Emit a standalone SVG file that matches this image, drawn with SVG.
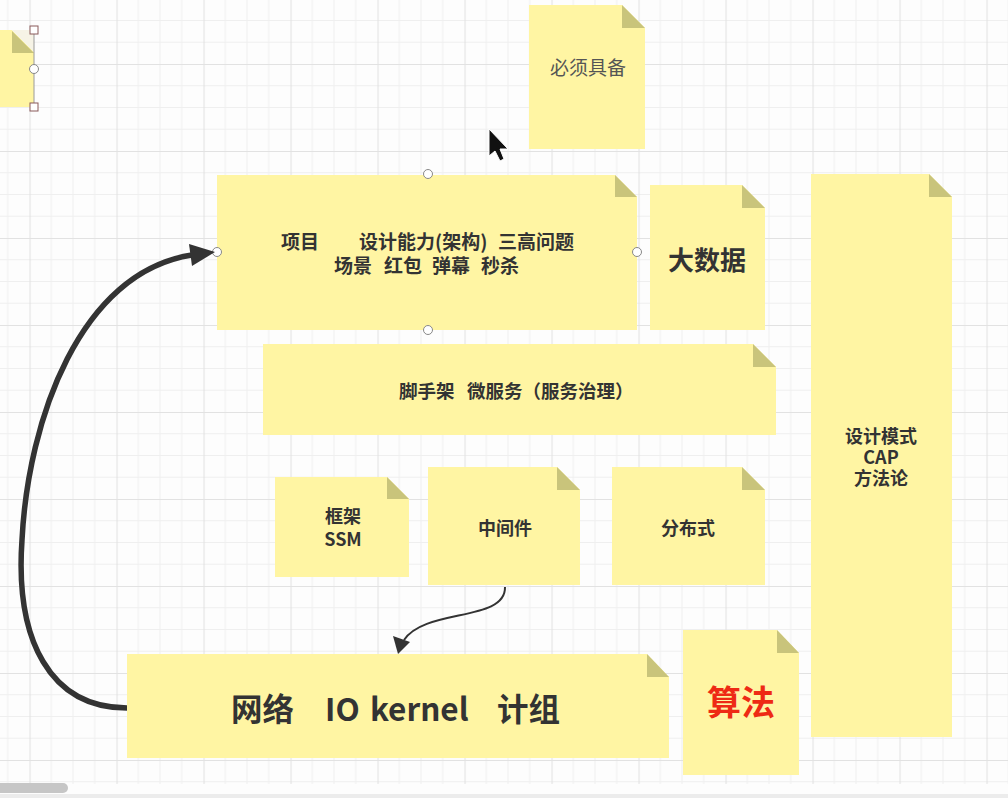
<svg xmlns="http://www.w3.org/2000/svg" width="1008" height="798" viewBox="0 0 1008 798">
<defs>
<pattern id="grid" patternUnits="userSpaceOnUse" x="29.5" y="64" width="87" height="87">
<path d="M21.75 0V87M43.5 0V87M65.25 0V87M0 21.75H87M0 43.5H87M0 65.25H87" stroke="#efefef" stroke-width="1" fill="none"/>
<path d="M0.5 0V87M0 0.5H87" stroke="#e2e2e2" stroke-width="1.2" fill="none"/>
</pattern>
<style>
.note{fill:#fff5a3}
.fold{fill:#c9c47b}
.t{font-family:"Noto Sans CJK SC","Microsoft YaHei",sans-serif;font-weight:bold;fill:#333}
.c{text-anchor:middle}
.h{fill:#fff;stroke:#888;stroke-width:1}
</style>
</defs>
<rect width="1008" height="798" fill="#fdfdfd"/>
<rect width="1008" height="784" fill="url(#grid)"/>

<g id="note-partial">
<polygon class="note" points="-60,30 12,30 34,52 34,107 -60,107"/>
<polygon points="12,30 34,30 34,52" fill="#f6f3e6"/>
<polygon class="fold" points="12,31 12,53 34,53"/>
<line x1="34" y1="30" x2="34" y2="107" stroke="#9a9a9a" stroke-width="1"/>
<rect x="30" y="26" width="8" height="8" fill="#fff" stroke="#8a5a5a"/>
<rect x="30" y="103" width="8" height="8" fill="#fff" stroke="#8a5a5a"/>
<circle cx="34" cy="69" r="4.5" class="h"/>
</g>

<g id="note-bixu">
<polygon class="note" points="529,5 622,5 645,28 645,149 529,149"/>
<polygon class="fold" points="622,5 622,28 645,28"/>
<text x="588" y="75" class="c" font-family="'Noto Sans CJK SC','Microsoft YaHei',sans-serif" font-size="19" fill="#555">必须具备</text>
</g>

<g id="note-xiangmu">
<polygon class="note" points="217,175 615,175 637,197 637,330 217,330"/>
<polygon class="fold" points="615,175 615,197 637,197"/>
<text class="t" font-size="19" y="248.5"><tspan x="281">项目</tspan><tspan x="359">设计能力(架构)</tspan><tspan x="498">三高问题</tspan></text>
<text class="t" font-size="19" y="272.5"><tspan x="334">场景</tspan><tspan x="384">红包</tspan><tspan x="432">弹幕</tspan><tspan x="481">秒杀</tspan></text>
<circle cx="428" cy="174" r="4.5" class="h"/>
<circle cx="217" cy="252" r="4.5" class="h"/>
<circle cx="637" cy="252" r="4.5" class="h"/>
<circle cx="428" cy="330" r="4.5" class="h"/>
</g>

<g id="note-bigdata">
<polygon class="note" points="650,185 742,185 765,208 765,330 650,330"/>
<polygon class="fold" points="742,185 742,208 765,208"/>
<text x="707" y="270" class="t c" font-size="26">大数据</text>
</g>

<g id="note-scaffold">
<polygon class="note" points="263,344 753,344 776,367 776,435 263,435"/>
<polygon class="fold" points="753,344 753,367 776,367"/>
<text class="t" font-size="18.5" y="397.5"><tspan x="399">脚手架</tspan><tspan x="467">微服务（服务治理）</tspan></text>
</g>

<g id="note-design">
<polygon class="note" points="811,174 929,174 952,197 952,737 811,737"/>
<polygon class="fold" points="929,174 929,197 952,197"/>
<text class="t c" font-size="18"><tspan x="881" y="442.5">设计模式</tspan><tspan x="881" y="463.5">CAP</tspan><tspan x="881" y="484.5">方法论</tspan></text>
</g>

<g id="note-ssm">
<polygon class="note" points="275,477 387,477 409,499 409,577 275,577"/>
<polygon class="fold" points="387,477 387,499 409,499"/>
<text class="t c" font-size="18"><tspan x="343" y="522.5">框架</tspan><tspan x="343" y="546">SSM</tspan></text>
</g>

<g id="note-middleware">
<polygon class="note" points="428,467 557,467 580,490 580,585 428,585"/>
<polygon class="fold" points="557,467 557,490 580,490"/>
<text x="505" y="534.5" class="t c" font-size="18">中间件</text>
</g>

<g id="note-distributed">
<polygon class="note" points="612,467 742,467 765,490 765,585 612,585"/>
<polygon class="fold" points="742,467 742,490 765,490"/>
<text x="688" y="534.5" class="t c" font-size="18">分布式</text>
</g>

<g id="note-network">
<polygon class="note" points="127,654 647,654 669,677 669,758 127,758"/>
<polygon class="fold" points="647,654 647,677 669,677"/>
<text class="t" font-size="31.5" y="720.5"><tspan x="231">网络</tspan><tspan x="325">IO</tspan><tspan x="370">kernel</tspan><tspan x="497">计组</tspan></text>
</g>

<g id="note-algo">
<polygon class="note" points="683,630 777,630 799,653 799,775 683,775"/>
<polygon class="fold" points="777,630 777,653 799,653"/>
<text x="741" y="715" class="c" font-family="'Noto Sans CJK SC','Microsoft YaHei',sans-serif" font-weight="bold" font-size="34" fill="#ee2a14">算法</text>
</g>

<g id="connectors">
<path d="M127,708 C50,708 15,640 22,540 C28,420 80,272 192,255" fill="none" stroke="#333" stroke-width="5.5"/>
<polygon points="215,252 189,244 192,266" fill="#333"/>
<path d="M505,587 C506,622 425,608 404,640" fill="none" stroke="#333" stroke-width="2"/>
<polygon points="398,654 393,636 410,642" fill="#333"/>
</g>

<polygon points="489,129 489,156 495,151 500,161 504,159 500,149 508,149" fill="#111" stroke="#fff" stroke-width="1"/>

<rect x="0" y="784" width="1008" height="14" fill="#fdfdfd"/>
<rect x="-6" y="783" width="74" height="10" rx="5" fill="#c6c6c6"/>
<rect x="0" y="794" width="1008" height="4" fill="#ececec"/>
</svg>
